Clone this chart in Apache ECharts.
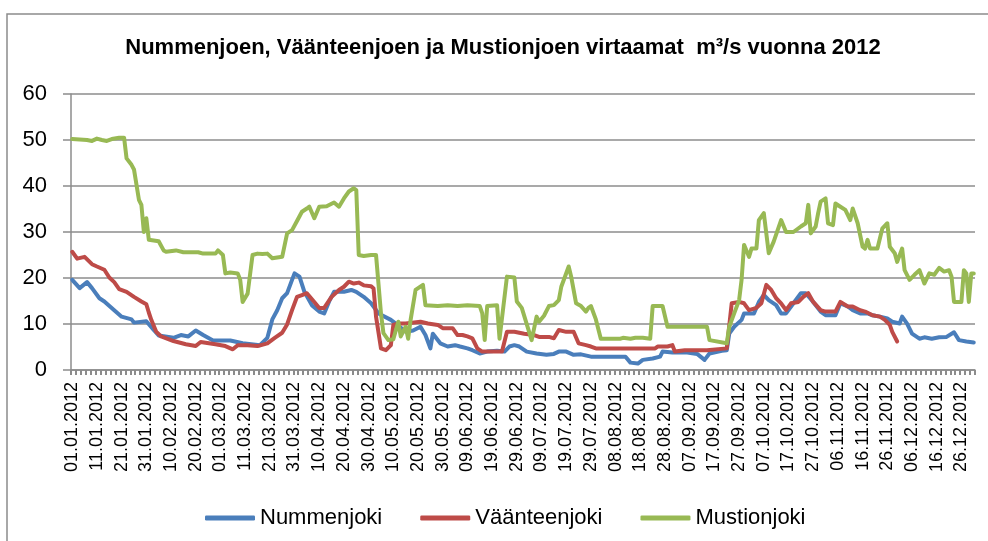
<!DOCTYPE html>
<html>
<head>
<meta charset="utf-8">
<script src="https://cdn.jsdelivr.net/npm/echarts@6/dist/echarts.min.js"></script>
<style>
html, body { margin: 0; padding: 0; background: #fff; }
#chart { width: 988px; height: 541px; }
</style>
</head>
<body>
<div id="chart"></div>
<script>
// päivät 2012 (karkausvuosi, 366 pv)
var days = [];
for (var i = 0; i < 366; i++) {
  var d = new Date(Date.UTC(2012, 0, 1 + i));
  var dd = ("0" + d.getUTCDate()).slice(-2);
  var mm = ("0" + (d.getUTCMonth() + 1)).slice(-2);
  days.push(dd + "." + mm + "." + d.getUTCFullYear());
}

var seriesNames = ["Nummenjoki", "Väänteenjoki", "Mustionjoki"];

// [päivän indeksi, virtaama m3/s] luettu kuvasta
var nummenjoki = [[0,19.6],[3,17.8],[6,19.1],[8,17.8],[11,15.6],[13,14.9],[17,13],[20,11.6],[24,11],[25,10.3],[30,10.6],[33,8.7],[35,7.5],[41,7],[44,7.6],[47,7.3],[50,8.6],[53,7.6],[57,6.4],[64,6.4],[69,5.8],[76,5.4],[79,7],[81,11],[83,13],[85,15.6],[87,16.7],[89,19.6],[90,21],[92,20.3],[94,17],[97,14.1],[100,12.7],[102,12.3],[104,14.9],[106,17],[110,17],[113,17.4],[115,17],[118,15.9],[121,14.5],[124,12.3],[129,10.9],[131,10.1],[135,8.3],[138,8.6],[141,9.4],[143,7.6],[145,4.7],[146,7.9],[149,5.8],[152,5.1],[155,5.4],[157,5.1],[160,4.7],[162,4.3],[165,3.6],[168,4],[172,4.2],[175,4],[177,5.1],[179,5.4],[181,5.1],[184,4],[188,3.6],[192,3.3],[195,3.5],[197,4],[200,4],[203,3.3],[206,3.4],[210,2.9],[224,2.9],[226,1.6],[229,1.4],[231,2.2],[235,2.5],[238,2.9],[239,4],[243,3.8],[249,3.8],[253,3.5],[256,2.2],[258,3.6],[263,4.2],[265,4.3],[266,7.9],[268,9.4],[271,10.9],[272,12.3],[276,12.3],[278,14.8],[280,16.3],[282,15.2],[285,14.1],[287,12.3],[289,12.3],[292,14.5],[295,16.7],[297,16.7],[300,14.8],[303,12.7],[305,11.9],[309,11.9],[311,14.5],[314,13.8],[316,13],[319,12.3],[322,12.3],[324,11.9],[327,11.6],[330,11.2],[332,10.5],[335,10.1],[336,11.6],[338,10.1],[340,7.9],[343,6.8],[345,7.1],[348,6.8],[351,7.1],[354,7.2],[357,8.2],[359,6.5],[362,6.2],[365,6]];

var vaanteenjoki = [[0,25.7],[2,24.2],[5,24.6],[8,23],[10,22.5],[13,21.8],[15,20.1],[17,19.1],[19,17.6],[22,17],[25,15.9],[28,14.9],[30,14.3],[31,12.5],[32,10.9],[34,8.3],[36,7.3],[41,6.3],[46,5.6],[50,5.2],[52,6.1],[58,5.6],[62,5.2],[65,4.5],[67,5.4],[71,5.4],[75,5.2],[79,5.8],[82,7],[85,8.1],[87,9.9],[89,13],[91,15.9],[93,16.3],[95,16.7],[98,14.8],[100,13.5],[102,13.5],[105,15.9],[108,17.4],[110,18.1],[112,19.2],[114,18.8],[116,19],[118,18.4],[121,18.2],[122,17.7],[123,11.6],[125,4.7],[127,4.3],[129,5.4],[130,9.8],[132,10.1],[135,10.1],[141,10.5],[144,10.1],[148,9.8],[150,9.1],[154,9.1],[156,7.6],[158,7.6],[160,7.3],[162,6.9],[164,4.7],[166,4],[174,4],[176,8.3],[179,8.3],[183,7.9],[187,7.6],[189,7.2],[193,7.2],[195,6.9],[197,8.7],[200,8.3],[203,8.3],[205,5.8],[208,5.4],[210,5.1],[212,4.7],[236,4.7],[237,5.1],[241,5.1],[243,5.4],[244,4],[248,4.3],[257,4.3],[265,4.7],[267,14.5],[270,14.8],[272,14.5],[274,13],[277,13.5],[279,14.5],[281,18.5],[283,17.4],[285,15.6],[287,14.5],[289,13],[291,14.5],[294,14.8],[296,15.9],[298,16.7],[300,14.8],[303,13],[305,12.7],[309,12.7],[311,14.8],[314,13.8],[316,13.8],[319,13],[321,12.7],[324,11.9],[327,11.6],[329,10.9],[331,9.8],[332,8.3],[334,6.2]];

var mustionjoki = [[0,50.2],[6,50],[8,49.8],[10,50.3],[12,50],[14,49.8],[16,50.2],[19,50.5],[21,50.5],[22,46],[24,44.6],[25,43.6],[27,37],[28,35.9],[29,30],[30,33],[31,28.3],[35,28],[37,26],[38,25.7],[42,26],[45,25.6],[51,25.6],[53,25.3],[58,25.3],[59,26],[61,25],[62,21],[64,21.2],[67,21],[68,19.6],[69,14.8],[71,16.6],[73,25],[75,25.3],[77,25.2],[79,25.3],[81,24.3],[85,24.6],[87,29.7],[89,30.4],[91,32.4],[93,34.4],[95,35.1],[96,35.5],[98,33],[100,35.5],[103,35.6],[106,36.4],[108,35.5],[110,37.3],[112,38.8],[114,39.5],[115,39.1],[116,25],[118,24.8],[121,25],[123,25],[125,12.3],[126,8],[128,6.5],[130,6.7],[132,10.5],[133,7.3],[135,9.4],[136,6.8],[137,10.9],[139,17.4],[142,18.5],[143,14.1],[148,13.9],[152,14.1],[156,13.9],[160,14.1],[165,13.9],[166,12.3],[167,6.5],[168,13.9],[172,14.1],[173,6.8],[176,20.3],[179,20.1],[180,14.9],[182,13.5],[186,6.5],[188,11.6],[189,10.5],[191,11.8],[193,13.9],[195,14.1],[197,15.2],[198,18.1],[201,22.5],[202,20.3],[204,14.5],[206,13.9],[208,12.7],[209,13.5],[210,13.9],[212,11],[214,6.8],[222,6.8],[223,7],[226,6.8],[228,7],[231,7],[234,6.8],[235,13.9],[239,13.9],[241,9.4],[257,9.4],[258,6.5],[265,5.8],[266,9.4],[268,12.3],[270,15.2],[271,19.6],[272,27.2],[274,24.6],[275,26.4],[277,26.4],[278,32.6],[280,34.1],[282,25.4],[284,27.9],[287,32.6],[289,30],[292,30],[295,31.2],[297,31.9],[298,35.9],[299,29.7],[301,31.2],[302,34.1],[303,36.6],[305,37.3],[306,31.9],[308,31.5],[309,36.2],[311,35.5],[313,34.8],[315,32.6],[316,35.1],[318,31.9],[320,26.8],[321,26.4],[322,28.3],[323,26.4],[326,26.4],[328,30.8],[330,31.9],[331,26.8],[333,25.4],[334,23.5],[336,26.4],[337,21.7],[339,19.6],[341,20.7],[343,21.7],[345,18.8],[347,21],[349,20.7],[351,22.2],[353,21.4],[355,21.7],[356,20.3],[357,14.8],[360,14.8],[361,21.7],[362,21],[363,14.8],[364,21],[365,21]];

var yTicks = [0, 10, 20, 30, 40, 50, 60];

var colors = ["#4A7EBB", "#BE4B48", "#98B954"];
var gridColor = "#8c8c8c";
var font = "Liberation Sans, Arial, sans-serif";

function lineSeries(name, data) {
  return {
    name: name,
    type: "line",
    data: data,
    showSymbol: false,
    symbol: "none",
    lineStyle: { width: 4, cap: "round", join: "round" }
  };
}

var option = {
  animation: false,
  color: colors,
  textStyle: { fontFamily: font, color: "#000" },
  title: {
    text: "Nummenjoen, Väänteenjoen ja Mustionjoen virtaamat  m³/s vuonna 2012",
    left: 498,
    textAlign: "center",
    top: 32,
    textStyle: { fontSize: 22, fontWeight: "bold", color: "#000", fontFamily: font }
  },
  legend: {
    left: 200,
    top: 502,
    itemWidth: 50,
    itemHeight: 5,
    itemGap: 38,
    icon: "roundRect",
    textStyle: { fontSize: 22, color: "#000", fontFamily: font },
    data: seriesNames
  },
  grid: { left: 71, right: 13, top: 94, bottom: 171 },
  xAxis: {
    type: "category",
    data: days,
    boundaryGap: true,
    axisLine: { lineStyle: { color: gridColor, width: 1.5 } },
    axisTick: { show: true, interval: 1, length: 5, lineStyle: { color: gridColor, width: 2 } },
    axisLabel: { interval: 9, rotate: 90, margin: 12, fontSize: 18, color: "#000", fontFamily: font },
    splitLine: { show: false }
  },
  yAxis: {
    type: "value",
    min: yTicks[0],
    max: yTicks[yTicks.length - 1],
    interval: 10,
    axisLine: { show: true, lineStyle: { color: gridColor, width: 1.5 } },
    axisTick: { show: true, length: 8, lineStyle: { color: gridColor, width: 1.5 } },
    axisLabel: { margin: 24, fontSize: 22, color: "#000", fontFamily: font },
    splitLine: { lineStyle: { color: gridColor, width: 1.5 } }
  },
  graphic: [{
    type: "rect",
    shape: { x: 7, y: 14, width: 1100, height: 700 },
    style: { fill: null, stroke: "#8c8c8c", lineWidth: 1.5 },
    silent: true,
    z: -1
  }],
  series: [
    lineSeries(seriesNames[0], nummenjoki),
    lineSeries(seriesNames[1], vaanteenjoki),
    lineSeries(seriesNames[2], mustionjoki)
  ]
};

var myChart = echarts.init(document.getElementById("chart"));
myChart.setOption(option);
</script>
</body>
</html>
